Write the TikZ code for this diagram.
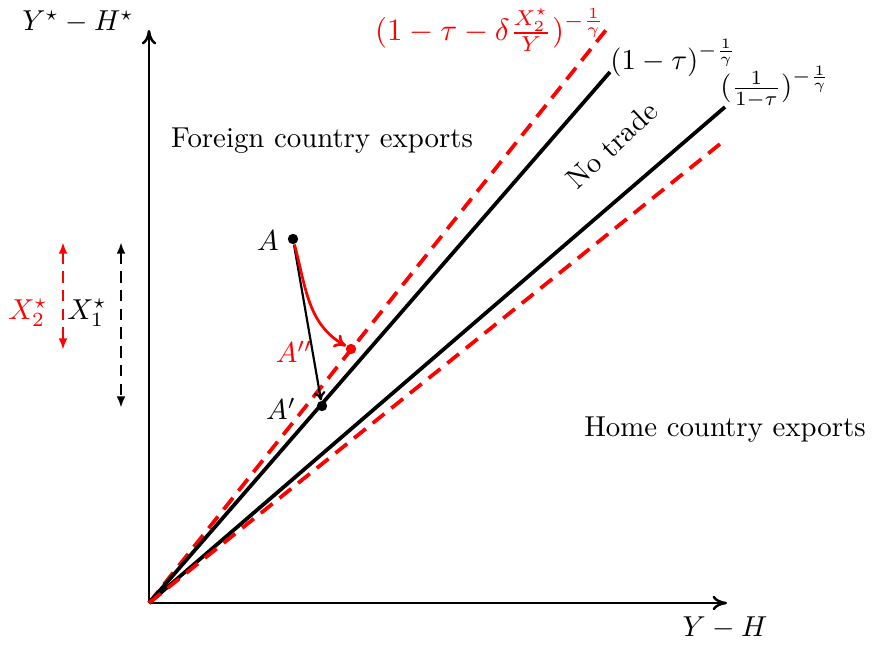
\documentclass[tikz,border=0pt]{standalone}
\usetikzlibrary{arrows.meta}
\begin{document}
\begin{tikzpicture}[x=0.347pt,y=-0.347pt,
  axis/.style={line width=0.85pt,-{To[length=5pt,width=5pt]}},
  main/.style={line width=1.3pt},
  reddash/.style={line width=1.3pt,red,dash pattern=on 5.2pt off 3.1pt},
  dot/.style={circle,fill,inner sep=0pt,minimum size=3.6pt},
  lab/.style={inner sep=1pt},
  dbl/.style={line width=0.85pt,dash pattern=on 4pt off 2.5pt,{Latex[length=4pt,width=3pt]}-{Latex[length=4pt,width=3pt]}}]
\useasboundingbox (0,0) rectangle (873,645);
\coordinate (O) at (149,603);
\coordinate (xe) at (727,603);
\coordinate (ye) at (149,30);
\coordinate (r1) at (610,25);
\coordinate (b1) at (610,72);
\coordinate (b2) at (725,107);
\coordinate (r2) at (725,140);
% axes
\draw[axis] (O) -- (xe);
\draw[axis] (O) -- (ye);
\node[lab] (xl) at (725,628) {$Y-H$};
\node[lab] (yl) at (78,22) {$Y^\star-H^\star$};
% rays
\draw[reddash] (O) -- (r1);
\draw[main] (O) -- (b1);
\draw[main] (O) -- (b2);
\draw[reddash] (O) -- (r2);
\node[lab,red,scale=1.07] (rl1) at (490,30) {$(1-\tau-\delta\frac{X_2^\star}{Y})^{-\frac{1}{\gamma}}$};
\node[lab,anchor=west] (bl1) at (607,58) {$(1-\tau)^{-\frac{1}{\gamma}}$};
\node[lab,anchor=west] (bl2) at (717,87) {$(\frac{1}{1-\tau})^{-\frac{1}{\gamma}}$};
\node[lab,rotate=43] (nt) at (612,145) {No trade};
\node[lab] (fe) at (322,141) {Foreign country exports};
\node[lab] (he) at (725,430) {Home country exports};
% points
\node[dot] (A) at (293,239) {};
\node[dot] (Ap) at (322,406) {};
\node[dot,red] (App) at (351,349) {};
\node[lab] (Al) at (268,241) {$A$};
\node[lab] (Apl) at (281,409) {$A'$};
\node[lab,red] (Appl) at (294,352) {$A''$};
\draw[line width=0.75pt,-{To[length=3pt,width=4pt]}] (A) -- (Ap);
\draw[line width=0.95pt,red,-{To[length=4pt,width=5pt]}] (A) to[out=-75,in=150] (App);
% left arrows
\coordinate (x2t) at (63,242);
\coordinate (x2b) at (63,350);
\coordinate (x1t) at (121,242);
\coordinate (x1b) at (121,408);
\draw[dbl,red] (x2t) -- (x2b);
\draw[dbl] (x1t) -- (x1b);
\node[lab,red] (x2l) at (28,313) {$X_2^\star$};
\node[lab] (x1l) at (87,313) {$X_1^\star$};
\end{tikzpicture}
\end{document}
